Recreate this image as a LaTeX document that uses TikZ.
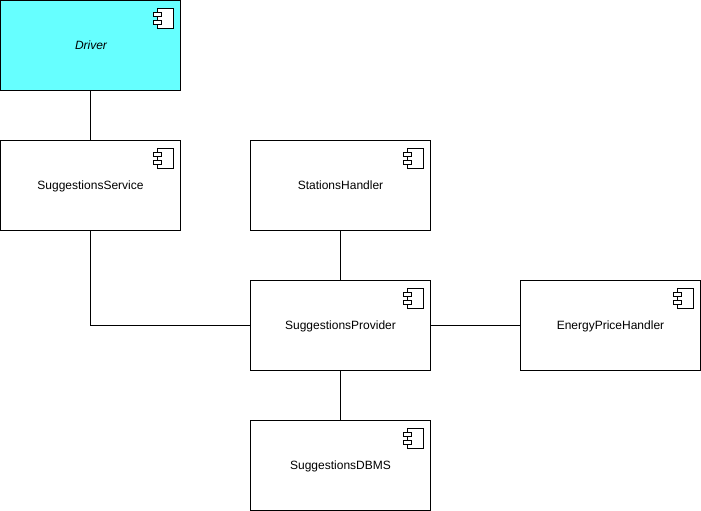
\documentclass[tikz,border=0pt]{standalone}
\usepackage{fontspec}
\setmainfont{Liberation Sans}
\tikzset{
  x=0.75pt,y=-0.75pt,
  every path/.style={line width=0.75pt},
  compbox/.style={draw=black,fill=white,minimum width=135pt,minimum height=67.5pt,inner sep=0pt,outer sep=0pt,text height=7.5pt,text depth=1.7pt,font=\fontsize{9}{11}\selectfont},
  drivercol/.style={fill=driverfill},
  link/.style={draw=black},
  pics/compicon/.style={code={
    \draw[fill=white] (-23,-37.5) rectangle (-7,-17.5);
    \draw[fill=white] (-27,-33.5) rectangle (-19,-29.5);
    \draw[fill=white] (-27,-25.5) rectangle (-19,-21.5);
  }}
}
\definecolor{driverfill}{HTML}{66FFFF}
\begin{document}
\begin{tikzpicture}
\useasboundingbox (0,0) rectangle (701,511);
\node[compbox,drivercol,font=\fontsize{9}{11}\selectfont\itshape] (driver) at (90.5,45.5) {\hspace{0.75pt}Driver};
\node[compbox] (service) at (90.5,185.5) {SuggestionsService};
\node[compbox] (stations) at (340.5,185.5) {StationsHandler};
\node[compbox] (provider) at (340.5,325.5) {SuggestionsProvider};
\node[compbox] (energy) at (610.5,325.5) {EnergyPriceHandler};
\node[compbox] (dbms) at (340.5,465.5) {SuggestionsDBMS};
\foreach \n in {driver,service,stations,provider,energy,dbms}
  \pic at (\n.east) {compicon};
\draw[link] (driver) -- (service);
\draw[link] (service.south) |- (provider.west);
\draw[link] (stations) -- (provider);
\draw[link] (provider) -- (energy);
\draw[link] (provider) -- (dbms);
\end{tikzpicture}
\end{document}
